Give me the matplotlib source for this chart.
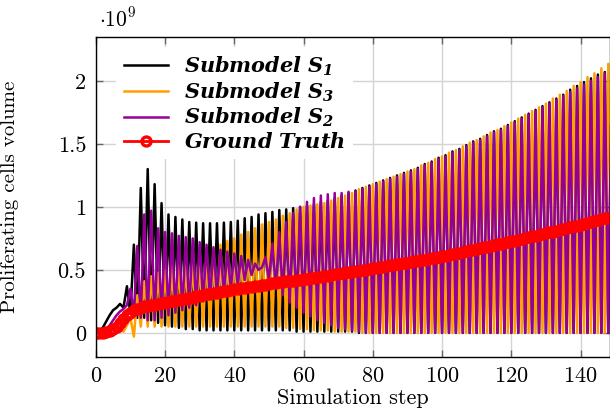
import numpy as np
import matplotlib
matplotlib.use("Agg")
import matplotlib.pyplot as plt
from matplotlib.ticker import FixedLocator, FixedFormatter
from matplotlib.font_manager import FontProperties

plt.rcParams['font.family'] = 'serif'
plt.rcParams['font.serif'] = ['cmr10', 'DejaVu Serif']
plt.rcParams['mathtext.fontset'] = 'cm'
plt.rcParams['axes.formatter.use_mathtext'] = True

# simulation steps and volumes (in units of 1e9)
steps = np.arange(150)

s1 = [0, 0.01, 0.04, 0.09, 0.14, 0.18, 0.20, 0.23, 0.20, 0.37,
      0.15, 0.70, 0.12, 1.15, 0.12, 1.30, 0.10, 1.18, 0.08, 1.03,
      0.06, 0.94, 0.05, 0.92, 0.04, 0.90, 0.03, 0.88, 0.03, 0.875,
      0.02, 0.87, 0.02, 0.87, 0.02, 0.87, 0.02, 0.875, 0.02, 0.88,
      0.02, 0.89, 0.02, 0.91, 0.02, 0.92, 0.02, 0.94, 0.02, 0.95,
      0.02, 0.96, 0.02, 0.975, 0.02, 0.98, 0.02, 0.99, 0.01, 1.00,
      0.01, 1.01, 0.01, 1.02, 0.01, 1.04, 0.01, 1.05, 0.01, 1.07,
      0.01, 1.09, 0.01, 1.11, 0.01, 1.13, 0, 1.15, 0, 1.17,
      0, 1.19, 0, 1.21, 0, 1.23, 0, 1.25, 0, 1.27,
      0, 1.29, 0, 1.31, 0, 1.34, 0, 1.36, 0, 1.39,
      0, 1.41, 0, 1.44, 0, 1.46, 0, 1.49, 0, 1.52,
      0, 1.54, 0, 1.57, 0, 1.60, 0, 1.62, 0, 1.65,
      0, 1.68, 0, 1.71, 0, 1.74, 0, 1.77, 0, 1.80,
      0, 1.83, 0, 1.86, 0, 1.89, 0, 1.93, 0, 1.96,
      0, 1.99, 0, 2.02, 0, 2.05, 0, 2.07, 0, 2.10]

s3 = [0, 0, 0, 0.01, 0.02, 0.03, 0.03, 0.05, 0.01, 0.06,
      0.12, -0.03, 0.30, 0.05, 0.41, 0.05, 0.45, 0.05, 0.48, 0.05,
      0.50, 0.05, 0.52, 0.05, 0.54, 0.05, 0.56, 0.05, 0.58, 0.05,
      0.60, 0.05, 0.63, 0.05, 0.67, 0.05, 0.70, 0.05, 0.73, 0.05,
      0.75, 0.05, 0.78, 0.05, 0.80, 0.05, 0.83, 0.05, 0.86, 0.05,
      0.88, 0.05, 0.90, 0.05, 0.93, 0.04, 0.95, 0.04, 0.98, 0.03,
      1.00, 0.03, 1.01, 0.02, 1.02, 0.02, 1.03, 0.02, 1.05, 0.01,
      1.07, 0.01, 1.09, 0.01, 1.11, 0.01, 1.14, 0, 1.16, 0,
      1.18, 0, 1.20, 0, 1.22, 0, 1.24, 0, 1.26, 0,
      1.28, 0, 1.30, 0, 1.33, 0, 1.35, 0, 1.38, 0,
      1.40, 0, 1.43, 0, 1.45, 0, 1.48, 0, 1.51, 0,
      1.53, 0, 1.56, 0, 1.59, 0, 1.61, 0, 1.64, 0,
      1.67, 0, 1.70, 0, 1.73, 0, 1.76, 0, 1.79, 0,
      1.82, 0, 1.86, 0, 1.89, 0, 1.92, 0, 1.96, 0,
      1.99, 0, 2.03, 0, 2.06, 0, 2.10, 0, 2.135, 0]

s2 = [0, 0, 0.01, 0.03, 0.06, 0.10, 0.14, 0.17, 0.19, 0.22,
      0.35, 0.15, 0.69, 0.12, 0.94, 0.10, 0.97, 0.10, 0.83, 0.12,
      0.80, 0.14, 0.79, 0.16, 0.77, 0.18, 0.76, 0.20, 0.75, 0.22,
      0.72, 0.25, 0.70, 0.27, 0.68, 0.30, 0.66, 0.32, 0.645, 0.35,
      0.63, 0.38, 0.61, 0.42, 0.58, 0.46, 0.55, 0.50, 0.52, 0.60,
      0.42, 0.71, 0.35, 0.80, 0.30, 0.88, 0.24, 0.95, 0.20, 1.00,
      0.16, 1.04, 0.13, 1.07, 0.10, 1.09, 0.08, 1.10, 0.06, 1.11,
      0.04, 1.11, 0.03, 1.12, 0.02, 1.12, 0.01, 1.14, 0, 1.16,
      0, 1.18, 0, 1.20, 0, 1.22, 0, 1.24, 0, 1.26,
      0, 1.28, 0, 1.30, 0, 1.33, 0, 1.35, 0, 1.38,
      0, 1.40, 0, 1.43, 0, 1.45, 0, 1.48, 0, 1.51,
      0, 1.53, 0, 1.56, 0, 1.59, 0, 1.61, 0, 1.64,
      0, 1.67, 0, 1.70, 0, 1.73, 0, 1.76, 0, 1.79,
      0, 1.82, 0, 1.85, 0, 1.88, 0, 1.91, 0, 1.94,
      0, 1.97, 0, 2.00, 0, 2.03, 0, 2.06, 0, 2.09]

truth = [0, 0, 0, 0.005, 0.015, 0.03, 0.05, 0.08, 0.11, 0.14,
         0.16, 0.18, 0.19, 0.20, 0.21, 0.215, 0.22, 0.225, 0.23, 0.235,
         0.24, 0.245, 0.25, 0.255, 0.26, 0.265, 0.27, 0.275, 0.28, 0.29,
         0.295, 0.30, 0.305, 0.31, 0.315, 0.32, 0.325, 0.33, 0.335, 0.34,
         0.345, 0.35, 0.355, 0.36, 0.364, 0.368, 0.372, 0.376, 0.38, 0.384,
         0.388, 0.392, 0.396, 0.40, 0.404, 0.408, 0.412, 0.415, 0.419, 0.423,
         0.427, 0.431, 0.435, 0.439, 0.443, 0.447, 0.451, 0.455, 0.46, 0.464,
         0.468, 0.472, 0.476, 0.48, 0.485, 0.489, 0.494, 0.498, 0.503, 0.507,
         0.512, 0.516, 0.521, 0.525, 0.53, 0.535, 0.539, 0.544, 0.549, 0.553,
         0.558, 0.563, 0.568, 0.572, 0.577, 0.582, 0.587, 0.592, 0.597, 0.602,
         0.607, 0.612, 0.618, 0.624, 0.63, 0.636, 0.642, 0.648, 0.654, 0.66,
         0.666, 0.672, 0.678, 0.684, 0.69, 0.696, 0.702, 0.708, 0.714, 0.72,
         0.727, 0.733, 0.739, 0.746, 0.752, 0.758, 0.765, 0.771, 0.778, 0.784,
         0.79, 0.797, 0.803, 0.81, 0.817, 0.824, 0.831, 0.838, 0.845, 0.852,
         0.859, 0.866, 0.873, 0.88, 0.887, 0.894, 0.901, 0.908, 0.915, 0.922]

xticks = [0, 20, 40, 60, 80, 100, 120, 140]
yticks = [0, 0.5, 1, 1.5, 2]
ytick_labels = ['0', '0.5', '1', '1.5', '2']

fig = plt.figure(figsize=(6.10, 4.13), dpi=100)
ax = fig.add_axes([0.157, 0.136, 0.843, 0.775])

ax.plot(steps, s1, color='black', lw=1.8, label=r'$\mathbfit{Submodel\ S_1}$')
ax.plot(steps, s3, color='#ffa000', lw=1.8, label=r'$\mathbfit{Submodel\ S_3}$')
ax.plot(steps, s2, color='#960096', lw=1.8, label=r'$\mathbfit{Submodel\ S_2}$')
ax.plot(steps, truth, color='red', lw=2, marker='o', ms=6.5, mfc='none', mew=2.4,
        label=r'$\mathbfit{Ground\ Truth}$')

ax.set_xlim(0, 148.5)
ax.set_ylim(-0.19, 2.35)
ax.xaxis.set_major_locator(FixedLocator(xticks))
ax.yaxis.set_major_locator(FixedLocator(yticks))
ax.yaxis.set_major_formatter(FixedFormatter(ytick_labels))
ax.grid(True, color='#d4d4d4', lw=1.0)
ax.set_axisbelow(True)
ax.tick_params(direction='in', length=5, width=1, color='#666666',
               top=True, right=True, labelsize=16, pad=7)
for sp in ax.spines.values():
    sp.set_linewidth(1.0)

ax.set_xlabel('Simulation step', fontsize=16, labelpad=2)
ax.set_ylabel('Proliferating cells volume', fontsize=15)
ax.yaxis.set_label_coords(-0.15, 0.5)
fig.text(0.163, 0.955, r'$\cdot 10^{9}$', fontsize=15.5, va='center', ha='left')

leg_font = FontProperties(size=15, math_fontfamily='dejavuserif')
leg = ax.legend(loc='upper left', bbox_to_anchor=(0.02, 1.0), prop=leg_font,
                frameon=True, fancybox=False, edgecolor='none', framealpha=1,
                handlelength=2.1, handletextpad=0.8, labelspacing=0.12,
                borderpad=0.35)

fig.savefig('out.png', dpi=100)
